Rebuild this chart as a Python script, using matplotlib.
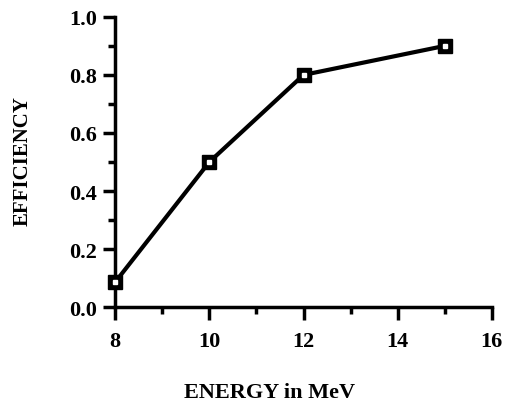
import matplotlib
matplotlib.use('Agg')
import matplotlib.pyplot as plt
from matplotlib.ticker import MultipleLocator

# data
energy = [8, 10, 12, 15]
efficiency = [0.086, 0.50, 0.80, 0.90]
x_ticks = [8, 10, 12, 14, 16]
y_ticks = [0.0, 0.2, 0.4, 0.6, 0.8, 1.0]

plt.rcParams['font.family'] = ['Liberation Serif', 'DejaVu Serif']
plt.rcParams['font.weight'] = 'bold'

fig = plt.figure(figsize=(5.05, 4.06), dpi=100)
ax = fig.add_axes([0.228, 0.241, 0.746, 0.715])

ax.plot(energy, efficiency, color='black', linewidth=3, marker='s',
        markersize=10, markerfacecolor='black', markeredgecolor='black', zorder=3)
ax.plot(energy, efficiency, linestyle='none', marker='s', markersize=2.5,
        markerfacecolor='white', markeredgecolor='white', zorder=4)

ax.set_xlim(8, 16)
ax.set_ylim(0, 1.0)
ax.set_xticks(x_ticks)
ax.set_yticks(y_ticks)
ax.set_xticklabels([str(t) for t in x_ticks])
ax.set_yticklabels([f'{t:.1f}' for t in y_ticks])
ax.xaxis.set_minor_locator(MultipleLocator(1))
ax.yaxis.set_minor_locator(MultipleLocator(0.1))

for side in ['top', 'right']:
    ax.spines[side].set_visible(False)
for side in ['left', 'bottom']:
    ax.spines[side].set_linewidth(2.5)

ax.tick_params(which='major', direction='out', length=9, width=2.5,
               labelsize=16)
ax.tick_params(axis='y', which='major', pad=4)
ax.tick_params(axis='x', which='major', pad=8)
ax.tick_params(which='minor', direction='out', length=5, width=2.5)
for lab in ax.get_xticklabels() + ax.get_yticklabels():
    lab.set_fontweight('bold')

fig.text(270 / 505, 1 - 393 / 406, 'ENERGY in MeV', fontsize=16,
         fontweight='bold', ha='center', va='center')
fig.text(23 / 505, 1 - 161 / 406, 'EFFICIENCY', fontsize=15,
         fontweight='bold', ha='center', va='center', rotation=90)

for line in ax.get_lines():
    line.set_clip_on(False)

fig.savefig('out.png', dpi=100)
